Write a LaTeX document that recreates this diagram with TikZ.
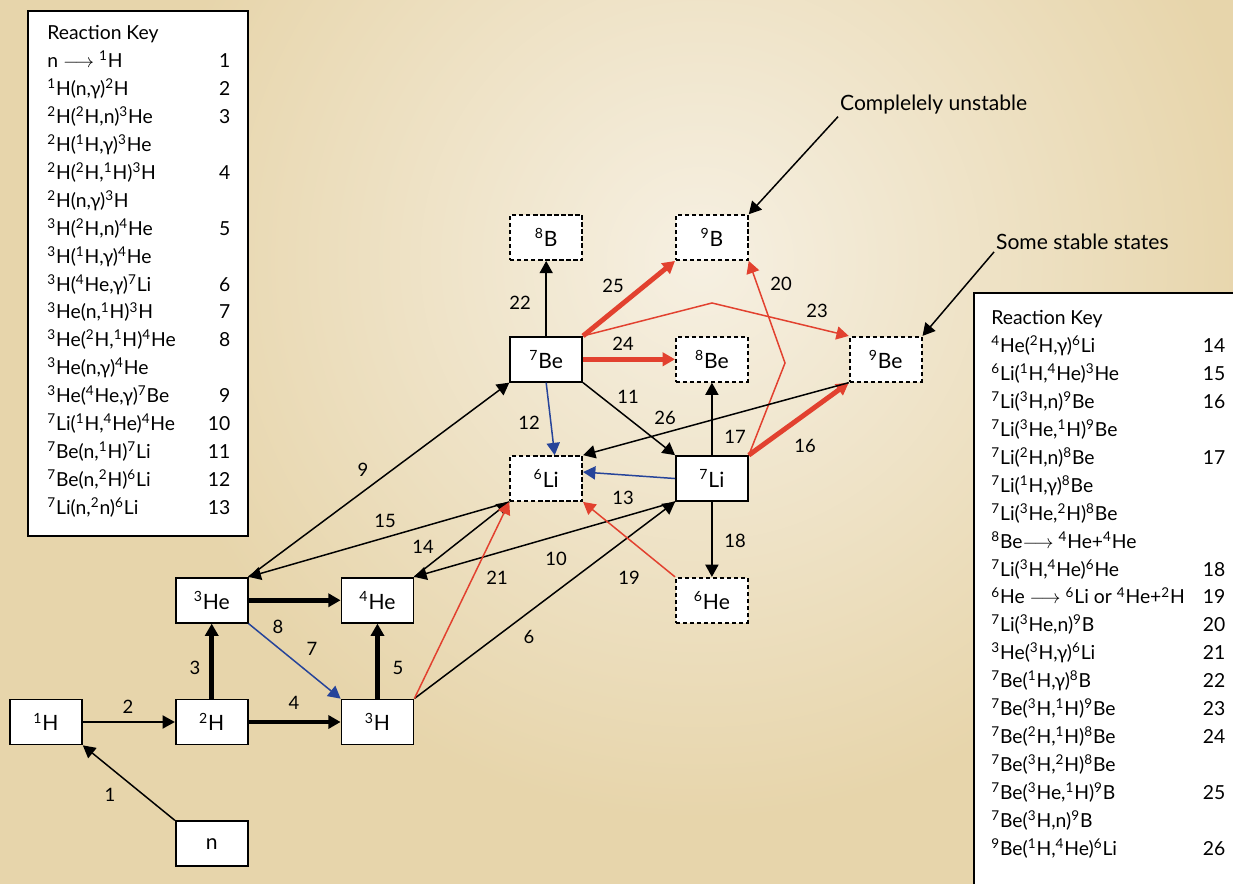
\documentclass[tikz,border=0pt]{standalone}
\usepackage{fontspec}
\setmainfont{Lato}
\usetikzlibrary{positioning, arrows.meta}

\definecolor{parchment}{HTML}{E7D5AB}
\definecolor{glow}{HTML}{F6F0E2}
\definecolor{fusred}{HTML}{E2412F}
\definecolor{fusblue}{HTML}{26449A}
\newcommand{\nuc}[2]{\textsuperscript{#1}#2}

\begin{document}
\begin{tikzpicture}[x=0.02cm, y=-0.02cm, node distance=1.5cm and 1.84cm, >={Triangle[length=7pt,width=7.5pt]}]
    % Styles
    \tikzstyle{nucl} = [rectangle, draw, fill=white, line width=1pt,
    minimum width=1.44cm, minimum height=0.9cm, inner sep=0pt, font=\large]
    \tikzstyle{unstab} = [nucl, dash pattern=on 2.4pt off 1.6pt]
    \tikzstyle{flow} = [->, line width=0.85pt]
    \tikzstyle{heavy} = [->, line width=2.8pt]
    \tikzstyle{lbl} = [inner sep=0pt, text=black, font=\fontsize{10.5}{12}\selectfont]
    \tikzstyle{keyframe} = [rectangle, draw, fill=white, line width=1.1pt, anchor=north west]
    \tikzstyle{keytext} = [anchor=base west, inner sep=0pt, font=\fontsize{11}{13.2}\selectfont]
    \tikzstyle{note} = [anchor=west, font=\large, inner sep=1pt]

    % Background
    \useasboundingbox (0,0) rectangle (1233,884);
    \clip (0,0) rectangle (1233,884);
    \fill[parchment] (0,0) rectangle (1233,884);
    \shade[inner color=glow, outer color=parchment] (700,260) circle (560);

    % Keys
    \node [keyframe, minimum width=4.4cm, minimum height=10.5cm] (keyL) at (27,10) {};
    \node [keytext] (keyLtext) at (47,40) {\def\arraystretch{1.203}%
    \begin{tabular*}{3.66cm}[t]{@{}l@{\extracolsep{\fill}}r@{}}
    Reaction Key & \\
    n $\longrightarrow$ \nuc{1}{H} & 1 \\
    \nuc{1}{H}(n,γ)\nuc{2}{H} & 2 \\
    \nuc{2}{H}(\nuc{2}{H},n)\nuc{3}{He} & 3 \\
    \nuc{2}{H}(\nuc{1}{H},γ)\nuc{3}{He} & \\
    \nuc{2}{H}(\nuc{2}{H},\nuc{1}{H})\nuc{3}{H} & 4 \\
    \nuc{2}{H}(n,γ)\nuc{3}{H} & \\
    \nuc{3}{H}(\nuc{2}{H},n)\nuc{4}{He} & 5 \\
    \nuc{3}{H}(\nuc{1}{H},γ)\nuc{4}{He} & \\
    \nuc{3}{H}(\nuc{4}{He},γ)\nuc{7}{Li} & 6 \\
    \nuc{3}{He}(n,\nuc{1}{H})\nuc{3}{H} & 7 \\
    \nuc{3}{He}(\nuc{2}{H},\nuc{1}{H})\nuc{4}{He} & 8 \\
    \nuc{3}{He}(n,γ)\nuc{4}{He} & \\
    \nuc{3}{He}(\nuc{4}{He},γ)\nuc{7}{Be} & 9 \\
    \nuc{7}{Li}(\nuc{1}{H},\nuc{4}{He})\nuc{4}{He} & 10 \\
    \nuc{7}{Be}(n,\nuc{1}{H})\nuc{7}{Li} & 11 \\
    \nuc{7}{Be}(n,\nuc{2}{H})\nuc{6}{Li} & 12 \\
    \nuc{7}{Li}(n,\nuc{2}{n})\nuc{6}{Li} & 13
    \end{tabular*}};

    \node [keyframe, minimum width=5.5cm, minimum height=12cm] (keyR) at (973,292) {};
    \node [keytext] (keyRtext) at (991,325) {\def\arraystretch{1.203}%
    \begin{tabular*}{4.68cm}[t]{@{}l@{\extracolsep{\fill}}r@{}}
    Reaction Key & \\
    \nuc{4}{He}(\nuc{2}{H},γ)\nuc{6}{Li} & 14 \\
    \nuc{6}{Li}(\nuc{1}{H},\nuc{4}{He})\nuc{3}{He} & 15 \\
    \nuc{7}{Li}(\nuc{3}{H},n)\nuc{9}{Be} & 16 \\
    \nuc{7}{Li}(\nuc{3}{He},\nuc{1}{H})\nuc{9}{Be} & \\
    \nuc{7}{Li}(\nuc{2}{H},n)\nuc{8}{Be} & 17 \\
    \nuc{7}{Li}(\nuc{1}{H},γ)\nuc{8}{Be} & \\
    \nuc{7}{Li}(\nuc{3}{He},\nuc{2}{H})\nuc{8}{Be} & \\
    \nuc{8}{Be}$\longrightarrow$ \nuc{4}{He}+\nuc{4}{He} & \\
    \nuc{7}{Li}(\nuc{3}{H},\nuc{4}{He})\nuc{6}{He} & 18 \\
    \nuc{6}{He} $\longrightarrow$ \nuc{6}{Li} or \nuc{4}{He}+\nuc{2}{H} & 19 \\
    \nuc{7}{Li}(\nuc{3}{He},n)\nuc{9}{B} & 20 \\
    \nuc{3}{He}(\nuc{3}{H},γ)\nuc{6}{Li} & 21 \\
    \nuc{7}{Be}(\nuc{1}{H},γ)\nuc{8}{B} & 22 \\
    \nuc{7}{Be}(\nuc{3}{H},\nuc{1}{H})\nuc{9}{Be} & 23 \\
    \nuc{7}{Be}(\nuc{2}{H},\nuc{1}{H})\nuc{8}{Be} & 24 \\
    \nuc{7}{Be}(\nuc{3}{H},\nuc{2}{H})\nuc{8}{Be} & \\
    \nuc{7}{Be}(\nuc{3}{He},\nuc{1}{H})\nuc{9}{B} & 25 \\
    \nuc{7}{Be}(\nuc{3}{H},n)\nuc{9}{B} & \\
    \nuc{9}{Be}(\nuc{1}{H},\nuc{4}{He})\nuc{6}{Li} & 26
    \end{tabular*}};

    % Nodes
    \node [nucl] (h1) at (46,722) {\nuc{1}{H}};
    \node [nucl, right=of h1] (h2) {\nuc{2}{H}};
    \node [nucl, right=of h2] (h3) {\nuc{3}{H}};
    \node [nucl, above=of h2] (he3) {\nuc{3}{He}};
    \node [nucl, above=of h3] (he4) {\nuc{4}{He}};
    \node [nucl, below=of h2] (n) {n};
    \node [unstab, above right=1.5cm and 1.9cm of he4] (li6) {\nuc{6}{Li}};
    \node [nucl, right=of li6] (li7) {\nuc{7}{Li}};
    \node [unstab, below=of li7] (he6) {\nuc{6}{He}};
    \node [nucl, above=1.45cm of li6] (be7) {\nuc{7}{Be}};
    \node [unstab, right=of be7] (be8) {\nuc{8}{Be}};
    \node [unstab, right=2cm of be8] (be9) {\nuc{9}{Be}};
    \node [unstab, above=of be7] (b8) {\nuc{8}{B}};
    \node [unstab, above=of be8] (b9) {\nuc{9}{B}};

    % Arrows
    \draw [flow] (n.north west) -- (h1.south east) node [lbl] at (110,795) {1};
    \draw [flow] (h1) -- (h2) node [lbl] at (128,707) {2};
    \draw [heavy] (h2) -- (he3) node [lbl] at (195,668) {3};
    \draw [heavy] (h2) -- (h3) node [lbl] at (294,703) {4};
    \draw [heavy] (h3) -- (he4) node [lbl] at (398,668) {5};
    \draw [heavy] (he3) -- (he4);
    \draw [flow] (h3.north east) -- (li7.south west) node [lbl] at (529,637) {6};
    \draw [flow, fusblue] (he3.south east) -- (h3.north west)
        node [lbl] at (278,627) {8} node [lbl] at (312,649) {7};
    \draw [flow] (he3.north east) -- (be7.south west) node [lbl] at (363,470) {9};
    \draw [flow] (li7.south west) -- (he4.north east) node [lbl] at (556,559) {10};
    \draw [flow] (be7.south east) -- (li7.north west) node [lbl] at (628,397) {11};
    \draw [flow, fusblue] (be7.south) -- (li6.70) node [lbl] at (529,423) {12};
    \draw [flow, fusblue] (li7.west) -- (li6.10) node [lbl] at (623,498) {13};
    \draw [flow] (he4.north east) -- (li6.south west) node [lbl] at (423,547) {14};
    \draw [flow] (li6.south west) -- (he3.north east) node [lbl] at (385,521) {15};
    \draw [heavy, fusred] (li7.north east) -- (be9.south west) node [lbl] at (805,446) {16};
    \draw [flow] (li7) -- (be8) node [lbl] at (735,437) {17};
    \draw [flow] (li7) -- (he6) node [lbl] at (735,541) {18};
    \draw [flow, fusred] (he6.north west) -- (li6.south east) node [lbl] at (629,578) {19};
    \draw [flow, fusred] (li7.north east) -- (785,363) -- (b9.south east) node [lbl] at (781,284) {20};
    \draw [flow, fusred] (h3.north east) -- (li6.south west) node [lbl] at (497,578) {21};
    \draw [flow] (be7) -- (b8) node [lbl] at (520,303) {22};
    \draw [flow, fusred] (be7.north east) -- (712,303) -- (be9.north west) node [lbl] at (817,311) {23};
    \draw [heavy, fusred] (be7) -- (be8) node [lbl] at (623,344) {24};
    \draw [heavy, fusred] (be7.north east) -- (b9.south west) node [lbl] at (613,286) {25};
    \draw [flow] (be9.south west) -- (li6.north east) node [lbl] at (665,418) {26};

    % Labels
    \node [note] (unstable) at (838,105) {Complelely unstable};
    \node [note] (stable) at (994,242) {Some stable states};
    \draw [flow] (unstable.south west) -- (b9.north east);
    \draw [flow] (stable.south west) -- (be9.north east);
\end{tikzpicture}
\end{document}
